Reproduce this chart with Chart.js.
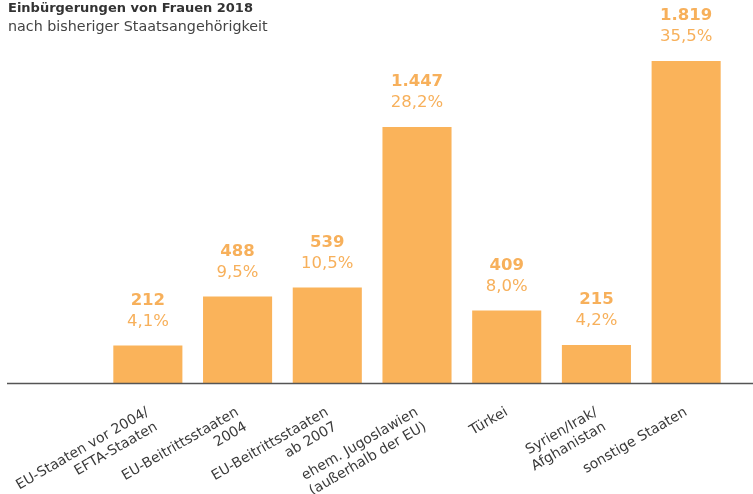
<!DOCTYPE html>
<html>
<head>
<meta charset="utf-8">
<script src="https://cdn.jsdelivr.net/npm/chart.js@4/dist/chart.umd.min.js"></script>
<style>
  body { margin: 0; background: #fff; }
  #wrap { position: relative; width: 753px; height: 494px; }
  .title { position: absolute; left: 8px; top: 0px; font: bold 13px "DejaVu Sans", sans-serif; color: #333; }
  .subtitle { position: absolute; left: 8px; top: 18px; font: 14.3px "DejaVu Sans", sans-serif; color: #444; }
</style>
</head>
<body>
<div id="wrap">
  <canvas id="myChart"></canvas>
  <div class="title">Einbürgerungen von Frauen 2018</div>
  <div class="subtitle">nach bisheriger Staatsangehörigkeit</div>
</div>
<script>
var laender = [
    ['EU-Staaten vor 2004/', 'EFTA-Staaten'],
    ['EU-Beitrittsstaaten', '2004'],
    ['EU-Beitrittsstaaten', 'ab 2007'],
    ['ehem. Jugoslawien', '(außerhalb der EU)'],
    'Türkei',
    ['Syrien/Irak/', 'Afghanistan'],
    'sonstige Staaten'
];
var anzahl = [212, 488, 539, 1447, 409, 215, 1819];
var anteil = [4.1, 9.5, 10.5, 28.2, 8.0, 4.2, 35.5];

var orange = '#FAB35A';

function zahl(v) {
    return String(v).replace(/\B(?=(\d{3})+(?!\d))/g, '.');
}
function prozent(v) {
    return v.toFixed(1).replace('.', ',') + '%';
}

// Beschriftung ueber den Balken + Grundlinie
var beschriftung = {
    id: 'beschriftung',
    afterDatasetsDraw: function (chart) {
        var c = chart.ctx;
        var meta = chart.getDatasetMeta(0);
        c.save();
        c.strokeStyle = '#555';
        c.lineWidth = 1.5;
        c.beginPath();
        c.moveTo(7, chart.chartArea.bottom + 0.5);
        c.lineTo(753, chart.chartArea.bottom + 0.5);
        c.stroke();

        c.textAlign = 'center';
        c.textBaseline = 'middle';
        c.fillStyle = '#F7B05B';
        meta.data.forEach(function (bar, i) {
            c.font = 'bold 16.5px "DejaVu Sans", sans-serif';
            c.fillText(zahl(anzahl[i]), bar.x, bar.y - 45);
            c.font = '16.5px "DejaVu Sans", sans-serif';
            c.fillText(prozent(anteil[i]), bar.x, bar.y - 24);
        });
        c.restore();
    }
};

var ctx = document.getElementById('myChart').getContext('2d');
var myChart = new Chart(ctx, {
    type: 'bar',
    data: {
        labels: laender,
        datasets: [{
            data: anzahl,
            backgroundColor: orange,
            borderWidth: 0,
            categoryPercentage: 1,
            barPercentage: 0.77
        }]
    },
    options: {
        responsive: true,
        maintainAspectRatio: false,
        animation: false,
        layout: {
            padding: { left: 103, right: 22, top: 29, bottom: 0 }
        },
        plugins: {
            legend: { display: false },
            tooltip: { enabled: false }
        },
        scales: {
            x: {
                grid: { display: false },
                border: { display: false },
                afterFit: function (s) {
                    s.height = 111;
                    s.paddingLeft = 0;
                    s.paddingRight = 0;
                },
                ticks: {
                    autoSkip: false,
                    minRotation: 30,
                    maxRotation: 30,
                    padding: 13,
                    color: '#3a3a3a',
                    font: { family: '"DejaVu Sans", sans-serif', size: 14 }
                }
            },
            y: {
                display: false,
                min: 0,
                max: 2000
            }
        }
    },
    plugins: [beschriftung]
});
</script>
</body>
</html>
